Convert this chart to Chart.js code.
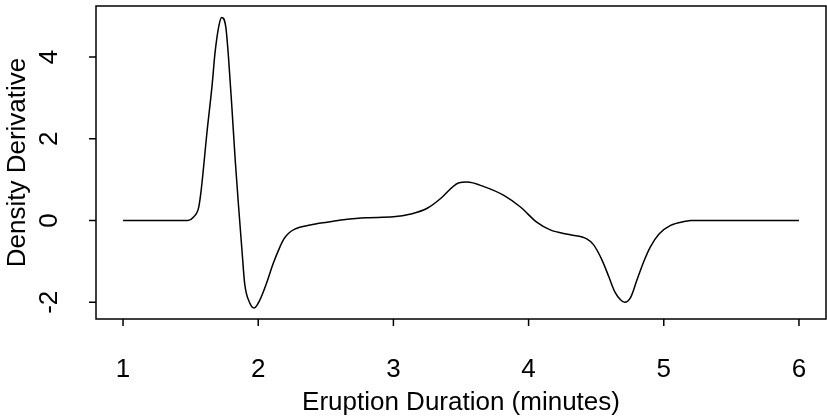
<!DOCTYPE html>
<html>
  <head>
    <title>Density Derivative</title>
    <meta charset="utf-8" />
    <style>
      body { margin: 0; background: #fff; }
      canvas { display: block; }
    </style>
    <script src="https://cdn.jsdelivr.net/npm/chart.js@4.4.0/dist/chart.umd.min.js"></script>
  </head>

  <body>
    <canvas id="myChart" width="827" height="417"></canvas>
    <script>
      // values
      const durations = [1.0, 1.2, 1.4, 1.48, 1.52, 1.56, 1.58, 1.62, 1.66, 1.68, 1.71, 1.73, 1.76, 1.78, 1.805, 1.83, 1.855, 1.88, 1.9, 1.935, 1.97, 2.01, 2.06, 2.11, 2.16, 2.19, 2.225, 2.27, 2.385, 2.51, 2.63, 2.8, 3.0, 3.13, 3.25, 3.36, 3.43, 3.48, 3.545, 3.67, 3.82, 3.94, 4.06, 4.16, 4.31, 4.43, 4.48, 4.545, 4.595, 4.64, 4.68, 4.71, 4.755, 4.8, 4.85, 4.9, 4.965, 5.05, 5.16, 5.2, 5.6, 6.0];
      const derivative = [0, 0, 0, 0, 0.08, 0.33, 0.8, 2.13, 3.35, 4.09, 4.78, 4.97, 4.74, 4.0, 2.78, 1.47, 0.33, -0.74, -1.55, -2.0, -2.14, -1.96, -1.55, -1.06, -0.65, -0.45, -0.31, -0.21, -0.11, -0.04, 0.02, 0.07, 0.09, 0.16, 0.3, 0.57, 0.8, 0.92, 0.94, 0.83, 0.61, 0.33, -0.04, -0.23, -0.35, -0.45, -0.59, -0.98, -1.39, -1.76, -1.94, -2.0, -1.88, -1.47, -1.02, -0.65, -0.33, -0.12, -0.02, 0, 0, 0];
      const xTicks = [1, 2, 3, 4, 5, 6];
      const yTicks = [-2, 0, 2, 4];
      const xTitle = "Eruption Duration (minutes)";
      const yTitle = "Density Derivative";

      const FONT = '26px "Liberation Sans", Arial, sans-serif';

      // R style box, ticks and labels
      const rAxes = {
        id: "rAxes",
        afterDraw(chart) {
          const ctx = chart.ctx;
          const a = chart.chartArea;
          const xs = chart.scales.x;
          const ys = chart.scales.y;
          ctx.save();
          ctx.strokeStyle = "#000";
          ctx.lineWidth = 1.5;
          ctx.strokeRect(a.left, a.top, a.right - a.left, a.bottom - a.top);

          ctx.fillStyle = "#000";
          ctx.font = FONT;
          ctx.textAlign = "center";
          ctx.textBaseline = "alphabetic";
          ctx.beginPath();
          xs.ticks.forEach(t => {
            const px = xs.getPixelForValue(t.value);
            ctx.moveTo(px, a.bottom);
            ctx.lineTo(px, a.bottom + 7);
          });
          ys.ticks.forEach(t => {
            const py = ys.getPixelForValue(t.value);
            ctx.moveTo(a.left, py);
            ctx.lineTo(a.left - 7, py);
          });
          ctx.stroke();

          xs.ticks.forEach(t => {
            ctx.fillText(String(t.value), xs.getPixelForValue(t.value), 377);
          });
          ctx.fillText(xTitle, (a.left + a.right) / 2, 410);

          ys.ticks.forEach(t => {
            ctx.save();
            ctx.translate(57, ys.getPixelForValue(t.value));
            ctx.rotate(-Math.PI / 2);
            ctx.fillText(String(t.value), 0, 0);
            ctx.restore();
          });
          ctx.save();
          ctx.translate(25, (a.top + a.bottom) / 2);
          ctx.rotate(-Math.PI / 2);
          ctx.fillText(yTitle, 0, 0);
          ctx.restore();
          ctx.restore();
        }
      };

      const ctx = document.getElementById("myChart").getContext("2d");
      const chart = new Chart(ctx, {
        type: "line",
        data: {
          datasets: [
            {
              data: durations.map((d, i) => ({ x: d, y: derivative[i] })),
              borderColor: "#000",
              borderWidth: 1.5,
              pointRadius: 0,
              fill: false,
              cubicInterpolationMode: "monotone"
            }
          ]
        },
        options: {
          responsive: false,
          animation: false,
          layout: { padding: { left: 96, right: 1, top: 6, bottom: 98 } },
          plugins: { legend: { display: false }, tooltip: { enabled: false } },
          scales: {
            x: {
              type: "linear",
              display: false,
              min: 0.8,
              max: 6.2,
              afterBuildTicks: s => { s.ticks = xTicks.map(v => ({ value: v })); }
            },
            y: {
              type: "linear",
              display: false,
              min: -2.41,
              max: 5.25,
              afterBuildTicks: s => { s.ticks = yTicks.map(v => ({ value: v })); }
            }
          }
        },
        plugins: [rAxes]
      });
    </script>
  </body>
</html>
